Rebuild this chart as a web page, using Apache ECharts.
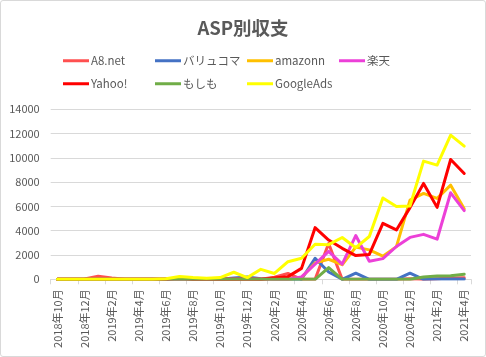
<!DOCTYPE html>
<html>
<head>
<meta charset="utf-8">
<script src="https://cdn.jsdelivr.net/npm/echarts@6/dist/echarts.min.js"></script>
<style>
html,body{margin:0;padding:0;background:#fff;}
#c{width:486px;height:357px;position:absolute;left:0;top:0;}
#b{position:absolute;left:0;top:0;width:484px;height:355px;border:1px solid #d9d9d9;border-radius:3px;pointer-events:none;}
</style>
</head>
<body>
<div id="c"></div>
<div id="b"></div>
<script>
var months = ['2018年10月','2018年11月','2018年12月','2019年1月','2019年2月','2019年3月','2019年4月','2019年5月','2019年6月','2019年7月','2019年8月','2019年9月','2019年10月','2019年11月','2019年12月','2020年1月','2020年2月','2020年3月','2020年4月','2020年5月','2020年6月','2020年7月','2020年8月','2020年9月','2020年10月','2020年11月','2020年12月','2021年1月','2021年2月','2021年3月','2021年4月'];

var a8net     = [0,0,30,250,100,0,0,0,0,0,0,0,0,0,100,0,180,480,0,0,2950,0,0,0,0,0,50,0,50,100,130];
var valuecommerce = [0,0,0,0,0,0,0,0,0,0,0,0,0,100,200,50,0,0,0,1730,600,0,500,0,0,0,500,0,30,30,30];
var amazonn   = [0,0,0,0,0,0,0,0,0,0,0,0,0,0,0,0,0,0,150,1350,1650,1200,2650,2420,1900,2690,6520,7070,6660,7750,5800];
var rakuten   = [0,0,0,0,0,0,0,0,0,0,0,0,0,0,0,0,0,0,200,1250,2300,1250,3600,1480,1700,2700,3450,3700,3300,7120,5650];
var yahoo     = [0,0,0,0,0,0,0,0,0,100,0,0,0,0,0,0,100,220,900,4250,3230,2550,1950,2050,4600,4060,5900,7890,5920,9860,8710];
var moshimo   = [0,0,0,0,0,0,0,0,0,0,0,0,0,0,0,0,0,0,0,0,960,0,0,0,0,0,0,190,270,300,420];
var googleads = [0,0,0,0,0,0,0,0,50,230,140,80,140,580,140,820,480,1450,1730,2880,2850,3440,2600,3520,6690,5990,6030,9730,9400,11860,10960];

var seriesNames = ['A8.net','バリュコマ','amazonn','楽天','Yahoo!','もしも','GoogleAds'];
var seriesData = [a8net, valuecommerce, amazonn, rakuten, yahoo, moshimo, googleads];
var colors = ['#FF5050','#4472C4','#FFC000','#EC40D8','#FF0000','#70AD47','#FFFF00'];

var FONT = '"Noto Sans CJK JP", "Noto Sans", sans-serif';
var chart = echarts.init(document.getElementById('c'), null, {renderer:'canvas'});

var series = seriesNames.map(function(n, k){
  return {
    name: n, type: 'line', data: seriesData[k],
    symbol: 'none', smooth: false,
    lineStyle: {width: 3, color: colors[k], join: 'round', cap: 'round'},
    itemStyle: {color: colors[k]},
    z: 2 + k
  };
});

var legendLeft = [63, 155, 247, 339, 63, 155, 247];
var legendTop  = [55, 55, 55, 55, 78, 78, 78];
var legends = seriesNames.map(function(n, k){
  return {
    data: [n], left: legendLeft[k], top: legendTop[k], padding: 0,
    icon: 'rect', itemWidth: 26, itemHeight: 3, itemGap: 0,
    textStyle: {color: '#595959', fontSize: 11.5, fontFamily: FONT, padding: [0,0,0,-3]}
  };
});

chart.setOption({
  animation: false,
  backgroundColor: '#ffffff',
  color: colors,
  title: {
    text: 'ASP別収支', left: 'center', top: 14,
    textStyle: {color: '#595959', fontSize: 18.5, fontWeight: 'bold', fontFamily: FONT}
  },
  legend: legends,
  grid: {left: 50.7, right: 15, top: 109.2, bottom: 77.7, containLabel: false},
  xAxis: {
    type: 'category', data: months, boundaryGap: true,
    axisLine: {lineStyle: {color: '#D9D9D9', width: 1}},
    axisTick: {show: true, length: 5, interval: 1, lineStyle: {color: '#D9D9D9'}},
    axisLabel: {interval: 1, rotate: 90, margin: 10, color: '#595959', fontSize: 11, fontFamily: FONT},
    splitLine: {show: false}
  },
  yAxis: {
    type: 'value', min: 0, max: 14000, interval: 2000,
    axisLine: {show: false}, axisTick: {show: false},
    axisLabel: {color: '#595959', fontSize: 11, fontFamily: FONT, margin: 11, formatter: function(v){ return String(v); }},
    splitLine: {lineStyle: {color: '#D9D9D9', width: 1}}
  },
  series: series
});
</script>
</body>
</html>
